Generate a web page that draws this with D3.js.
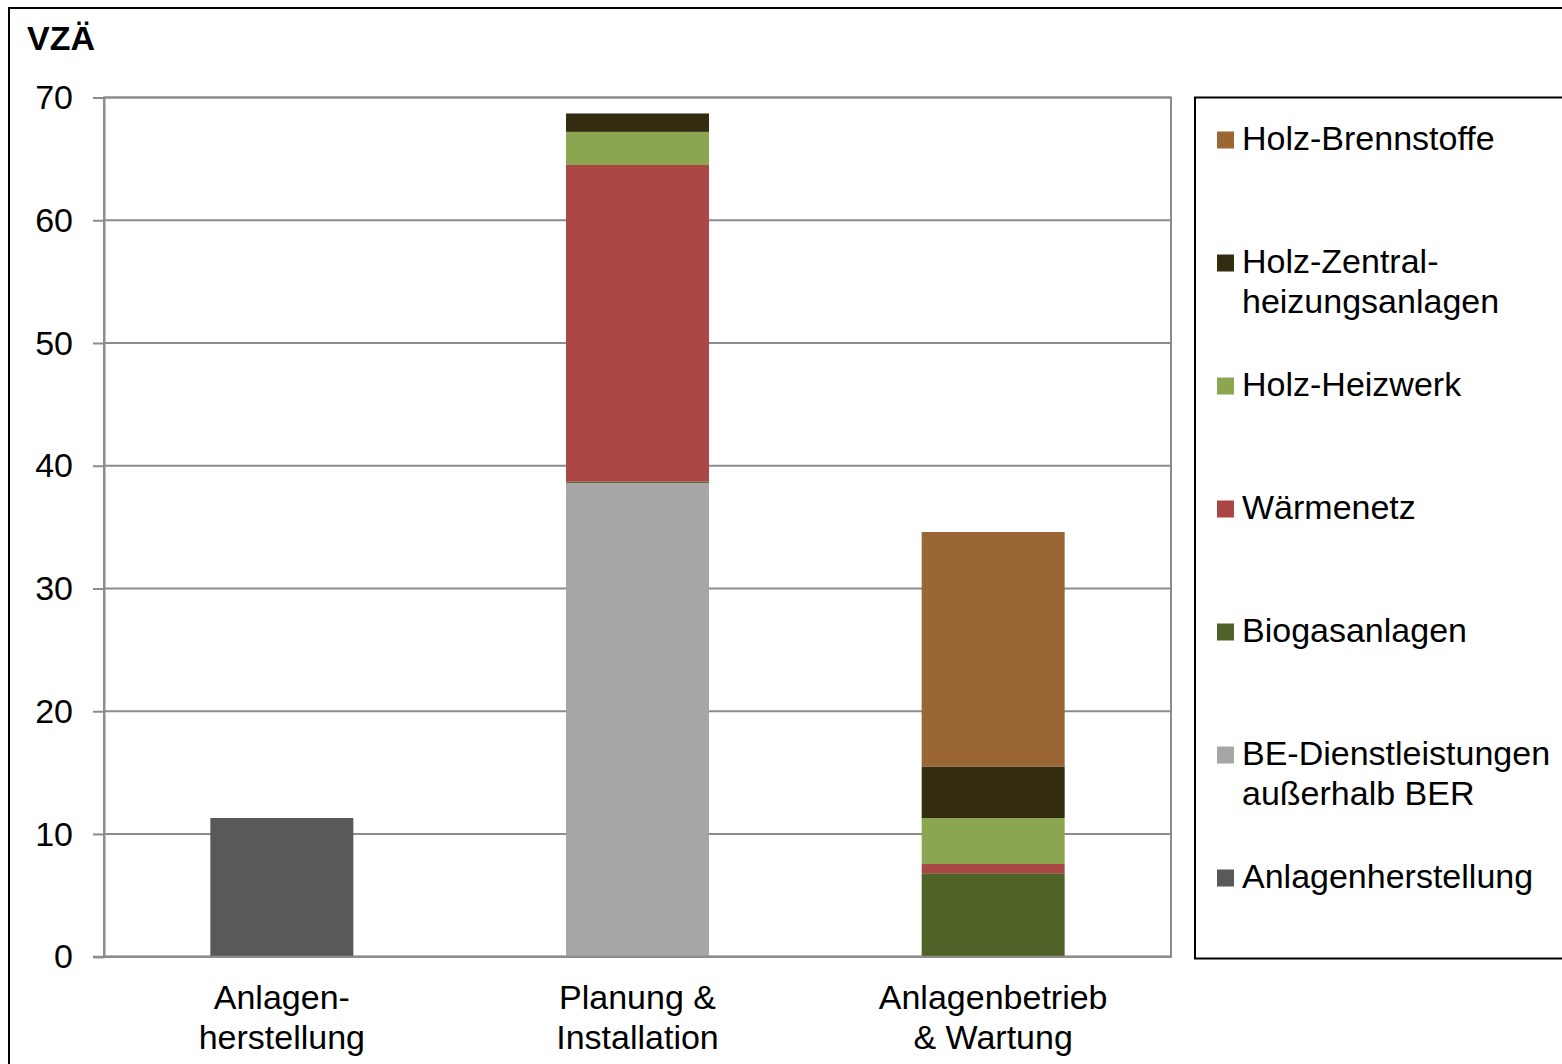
<!DOCTYPE html>
<html>
<head>
<meta charset="utf-8">
<script src="https://cdn.jsdelivr.net/npm/d3@7"></script>
<style>
  html, body { margin: 0; padding: 0; background: #fff; }
  svg { display: block; font-family: "Liberation Sans", Arial, sans-serif; }
</style>
</head>
<body>
<svg id="chart" width="1562" height="1064"></svg>
<script>
// Categories (x axis), each label split into lines
const categories = ["Anlagenherstellung", "Planung & Installation", "Anlagenbetrieb & Wartung"];
const categoryLines = [["Anlagen-", "herstellung"], ["Planung &", "Installation"], ["Anlagenbetrieb", "& Wartung"]];

// Series in stacking order (bottom to top), values per category in VZÄ
const seriesNames = [
  "Anlagenherstellung",
  "BE-Dienstleistungen außerhalb BER",
  "Biogasanlagen",
  "Wärmenetz",
  "Holz-Heizwerk",
  "Holz-Zentralheizungsanlagen",
  "Holz-Brennstoffe"
];
const anlagenherstellung = [11.3, 0, 0];
const beDienstleistungen = [0, 38.6, 0];
const biogasanlagen      = [0, 0.1, 6.8];
const waermenetz         = [0, 25.8, 0.75];
const holzHeizwerk       = [0, 2.7, 3.75];
const holzZentral        = [0, 1.5, 4.2];
const holzBrennstoffe    = [0, 0, 19.1];
const seriesValues = [anlagenherstellung, beDienstleistungen, biogasanlagen, waermenetz, holzHeizwerk, holzZentral, holzBrennstoffe];
const seriesColors = ["#595959", "#a6a6a6", "#4f6228", "#aa4744", "#8ba550", "#332c11", "#9a6634"];

// Legend (top to bottom) with its line breaks
const legendOrder = [6, 5, 4, 3, 2, 1, 0];
const legendLines = {
  0: ["Anlagenherstellung"],
  1: ["BE-Dienstleistungen", "außerhalb BER"],
  2: ["Biogasanlagen"],
  3: ["Wärmenetz"],
  4: ["Holz-Heizwerk"],
  5: ["Holz-Zentral-", "heizungsanlagen"],
  6: ["Holz-Brennstoffe"]
};

const yTicks = [0, 10, 20, 30, 40, 50, 60, 70];
const yLabel = "VZÄ";

const fontSize = 34;
const svg = d3.select("#chart");

// Outer frame
svg.append("rect")
  .attr("x", 9).attr("y", 8).attr("width", 1600).attr("height", 1100)
  .attr("fill", "none").attr("stroke", "#000").attr("stroke-width", 2);

const plot = { left: 104, right: 1171, top: 97.5, bottom: 956.7 };

const x = d3.scaleBand().domain(categories).range([plot.left, plot.right]).padding(0);
const y = d3.scaleLinear().domain([0, 70]).range([plot.bottom, plot.top]);
const barWidth = x.bandwidth() * 0.402;

// Horizontal gridlines
svg.append("g").selectAll("line").data(yTicks).join("line")
  .attr("x1", plot.left).attr("x2", plot.right)
  .attr("y1", d => y(d)).attr("y2", d => y(d))
  .attr("stroke", "#8c8c8c").attr("stroke-width", 2);

// Plot border
svg.append("rect")
  .attr("x", plot.left).attr("y", plot.top)
  .attr("width", plot.right - plot.left).attr("height", plot.bottom - plot.top)
  .attr("fill", "none").attr("stroke", "#8c8c8c").attr("stroke-width", 2);

// Stacked bars
const rows = categories.map((c, i) => {
  const r = { category: c };
  seriesNames.forEach((s, j) => { r[s] = seriesValues[j][i]; });
  return r;
});
const stacked = d3.stack().keys(seriesNames)(rows);

svg.append("g").selectAll("g").data(stacked).join("g")
  .attr("fill", (d, i) => seriesColors[i])
  .selectAll("rect").data(d => d.filter(p => p[1] - p[0] > 0)).join("rect")
  .attr("x", d => x(d.data.category) + (x.bandwidth() - barWidth) / 2)
  .attr("width", barWidth)
  .attr("y", d => y(d[1]))
  .attr("height", d => y(d[0]) - y(d[1]));

// Y axis
const yAxis = d3.axisLeft(y).tickValues(yTicks).tickSize(11).tickPadding(20).tickFormat(d3.format("d"));
const gy = svg.append("g").attr("transform", `translate(${plot.left},0)`).call(yAxis);
gy.select(".domain").attr("stroke", "#8c8c8c").attr("stroke-width", 2);
gy.selectAll(".tick line").attr("stroke", "#8c8c8c").attr("stroke-width", 2);
gy.selectAll(".tick text").attr("font-size", fontSize).attr("fill", "#000")
  .attr("font-family", "Liberation Sans, Arial, sans-serif")
  .attr("dy", "0.33em");

// Extend baseline under the ticks
svg.append("line")
  .attr("x1", plot.left - 11).attr("x2", plot.right)
  .attr("y1", y(0)).attr("y2", y(0))
  .attr("stroke", "#8c8c8c").attr("stroke-width", 2);

// Y axis title
svg.append("text").attr("x", 27).attr("y", 50)
  .attr("font-size", fontSize).attr("font-weight", "bold").text(yLabel);

// Category labels
const catG = svg.append("g");
categories.forEach((c, i) => {
  const cx = x(c) + x.bandwidth() / 2;
  const t = catG.append("text").attr("text-anchor", "middle").attr("font-size", fontSize);
  categoryLines[i].forEach((ln, k) => {
    t.append("tspan").attr("x", cx).attr("y", 1009 + k * 40).text(ln);
  });
});

// Legend box
svg.append("rect")
  .attr("x", 1195).attr("y", 97.5).attr("width", 500).attr("height", 861)
  .attr("fill", "none").attr("stroke", "#000").attr("stroke-width", 2);

const legend = svg.append("g");
legendOrder.forEach((si, k) => {
  const yc = 140 + k * 123;
  legend.append("rect")
    .attr("x", 1217).attr("y", yc - 8.5).attr("width", 17).attr("height", 17)
    .attr("fill", seriesColors[si]);
  const t = legend.append("text").attr("font-size", fontSize);
  legendLines[si].forEach((ln, j) => {
    t.append("tspan").attr("x", 1242).attr("y", yc + 9.5 + j * 40).text(ln);
  });
});
</script>
</body>
</html>
